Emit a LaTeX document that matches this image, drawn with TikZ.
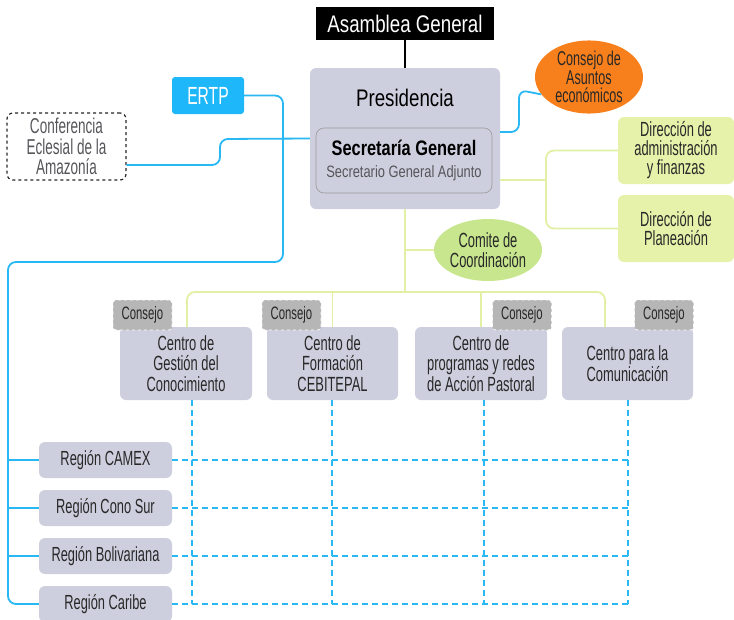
\documentclass[tikz,border=0pt]{standalone}
\usepackage{fontspec}
\setmainfont[FakeStretch=0.78]{Liberation Sans}
\newfontfamily\cond[FakeStretch=0.63]{Liberation Sans}
\usetikzlibrary{shapes.geometric}
\definecolor{boxgray}{RGB}{206,207,222}
\definecolor{lineblue}{RGB}{40,185,245}
\definecolor{ertpblue}{RGB}{30,184,250}
\definecolor{lgreen}{RGB}{225,240,165}
\definecolor{dirfill}{RGB}{230,242,170}
\definecolor{comfill}{RGB}{199,230,142}
\definecolor{orangef}{RGB}{248,128,28}
\definecolor{tagfill}{RGB}{182,182,182}
\definecolor{txt}{RGB}{40,40,40}
\definecolor{subtxt}{RGB}{85,85,90}
\tikzset{
  graybox/.style={fill=boxgray, rounded corners=6pt, inner sep=0pt, align=center, text=txt},
  centerbox/.style={graybox, font=\cond\fontsize{20.5}{20.5}\selectfont},
  regionbox/.style={graybox, minimum width=133pt, minimum height=36pt, font=\cond\fontsize{20.4}{19}\selectfont},
  tagbox/.style={fill=tagfill, draw=white, dashed, line width=0.8pt, rounded corners=3pt, inner sep=0pt,
    minimum width=59pt, minimum height=30pt, text=txt, font=\cond\fontsize{18}{17}\selectfont},
  dirbox/.style={fill=dirfill, rounded corners=6pt, inner sep=0pt, align=center, text=txt,
    minimum width=116pt, minimum height=67pt, font=\cond\fontsize{20.5}{19}\selectfont},
  bl/.style={draw=lineblue, line width=1.8pt, rounded corners=8pt},
  gl/.style={draw=lgreen, line width=1.8pt, rounded corners=8pt},
  dl/.style={draw=lineblue, line width=1.5pt, dash pattern=on 6pt off 4pt},
}
\begin{document}
\begin{tikzpicture}[x=1pt,y=-1pt]
\useasboundingbox (0,0) rectangle (734,619);

% top
\node[fill=black, text=white, minimum width=178pt, minimum height=33pt, inner sep=0pt,
  font=\fontsize{24}{28}\selectfont] (asamblea) at (405,23.5) {Asamblea General};
\node[graybox, minimum width=190pt, minimum height=141pt] (pres) at (405,138.5) {};
\node[text=black, inner sep=0pt, font=\fontsize{24}{28}\selectfont] (prestitle) at (405,98) {Presidencia};
\node[fill=boxgray, draw=gray!80, line width=0.6pt, rounded corners=8pt, minimum width=176pt,
  minimum height=65pt, inner sep=0pt] (sg) at (404,160.5) {};
\node[text=black, inner sep=0pt, font=\fontsize{21}{24}\selectfont\bfseries] (sgtitle) at (404,148) {Secretaría General};
\node[text=subtxt, inner sep=0pt, font=\fontsize{16.5}{19}\selectfont] (sgsub) at (404,173) {Secretario General Adjunto};

\node[ellipse, fill=orangef, minimum width=108pt, minimum height=70pt, inner sep=0pt, align=center,
  text=txt, font=\cond\fontsize{20}{18.5}\selectfont] (eco) at (589,77) {Consejo de\\Asuntos\\económicos};

\node[dirbox] (dir1) at (676,150.5) {Dirección de\\administración\\y finanzas};
\node[dirbox] (dir2) at (676,228.5) {Dirección de\\Planeación};

\node[ellipse, fill=comfill, minimum width=108pt, minimum height=62pt, inner sep=0pt, align=center,
  text=txt, font=\cond\fontsize{20.5}{20}\selectfont] (com) at (488,250) {Comite de\\Coordinación};

\node[fill=ertpblue, text=white, rounded corners=3pt, minimum width=72pt, minimum height=37pt, inner sep=0pt,
  font=\cond\fontsize{24.8}{24}\selectfont] (ertp) at (208,95.5) {ERTP};

\node[draw=black!85, dashed, line width=1.2pt, rounded corners=6pt, minimum width=119pt, minimum height=67pt,
  inner sep=0pt, align=center, text=subtxt, font=\cond\fontsize{21.5}{20.5}\selectfont] (conf) at (66.5,146.5)
  {Conferencia\\Eclesial de la\\Amazonía};

% centers
\node[centerbox, minimum width=132pt, minimum height=73pt] (c1) at (186,363.5) {Centro de\\Gestión del\\Conocimiento};
\node[centerbox, minimum width=131pt, minimum height=73pt] (c2) at (332.5,363.5) {Centro de\\Formación\\CEBITEPAL};
\node[centerbox, minimum width=132pt, minimum height=73pt] (c3) at (481,363.5) {Centro de\\programas y redes\\de Acción Pastoral};
\node[centerbox, minimum width=131pt, minimum height=73pt] (c4) at (627.5,363.5) {Centro para la\\Comunicación};

\node[tagbox] (t1) at (142.5,315) {Consejo};
\node[tagbox] (t2) at (291.5,315) {Consejo};
\node[tagbox] (t3) at (522,315) {Consejo};
\node[tagbox] (t4) at (664,315) {Consejo};

% regions
\node[regionbox] (r1) at (105.5,460) {Región CAMEX};
\node[regionbox] (r2) at (105.5,508) {Región Cono Sur};
\node[regionbox] (r3) at (105.5,556) {Región Bolivariana};
\node[regionbox] (r4) at (105.5,604) {Región Caribe};

% coordinates
\coordinate (ecoj) at (519,90);
\coordinate (dj) at (546,180);
\coordinate (hub) at (405,292);
\coordinate (c1in) at (187,327);
\coordinate (c4in) at (605,327);
\coordinate (ertpj) at (283,262);
\coordinate (busl) at (8,262);
\coordinate (confj) at (220,139);
\coordinate (v1) at (192,400);
\coordinate (v2) at (332,400);
\coordinate (v3) at (484,400);
\coordinate (v4) at (628,400);

% connectors
\draw[line width=1.4pt] (asamblea.south) -- (pres.north);
\draw[bl] ([yshift=6.5pt]pres.east) -| (ecoj) -- (eco.200);
\draw[gl] ([yshift=-41.5pt]pres.east) -- (dj);
\draw[gl] (dj) |- (dir1.west);
\draw[gl] (dj) |- (dir2.west);
\draw[gl, rounded corners=0pt] (pres.south) -- (hub);
\draw[gl, rounded corners=0pt] (pres.south |- com.west) -- (com.west);
\draw[gl] (c1in) |- (hub) -| (c4in);
\draw[gl] (c2.north) -- (c2.north |- hub);
\draw[gl] (c3.north) -- (c3.north |- hub);

\draw[bl] (ertp.east) -| (ertpj) -- (busl) |- (r4.west);
\draw[bl, rounded corners=0pt] (busl |- r1.west) -- (r1.west);
\draw[bl, rounded corners=0pt] (busl |- r2.west) -- (r2.west);
\draw[bl, rounded corners=0pt] (busl |- r3.west) -- (r3.west);
\draw[bl] ([yshift=-18.5pt]conf.east) -| (confj) -- (pres.west);

% dashed grid
\draw[dl] (v1) -- (v1 |- r4.east);
\draw[dl] (v2) -- (v2 |- r4.east);
\draw[dl] (v3) -- (v3 |- r4.east);
\draw[dl] (v4) -- (v4 |- r4.east);
\draw[dl] (r1.east) -- (r1.east -| v4);
\draw[dl] (r2.east) -- (r2.east -| v4);
\draw[dl] (r3.east) -- (r3.east -| v4);
\draw[dl] (r4.east) -- (r4.east -| v4);
\end{tikzpicture}
\end{document}
